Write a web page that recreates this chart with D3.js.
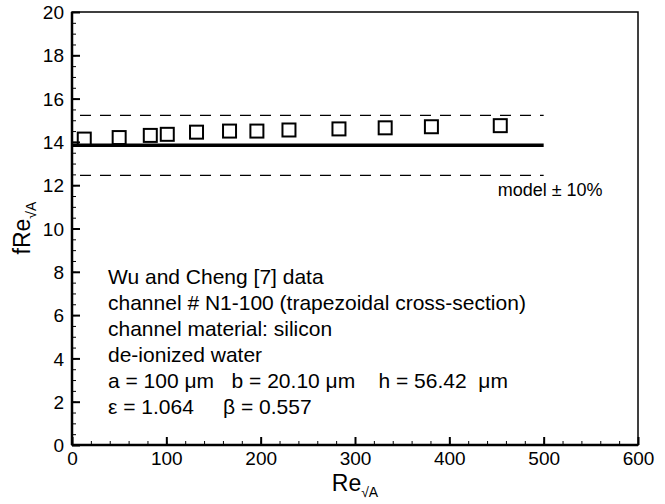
<!DOCTYPE html>
<html>
<head>
<meta charset="utf-8">
<script src="https://cdn.jsdelivr.net/npm/d3@7"></script>
<style>
body { margin: 0; background: #fff; }
svg { font-family: "Liberation Sans", Arial, sans-serif; }
</style>
</head>
<body>
<svg id="chart"></svg>
<script>
// data
const reData = [13, 50, 83, 101, 132, 167, 196, 230, 283, 332, 381, 454];
const fReData = [14.13, 14.2, 14.3, 14.35, 14.45, 14.5, 14.5, 14.55, 14.6, 14.65, 14.7, 14.75];
const modelRange = [0, 500];
const modelValue = 13.84;
const bandValues = [modelValue * 1.1, modelValue * 0.9];
const xTicks = [0, 100, 200, 300, 400, 500, 600];
const yTicks = [0, 2, 4, 6, 8, 10, 12, 14, 16, 18, 20];
const notes = [
    "Wu and Cheng [7] data",
    "channel # N1-100 (trapezoidal cross-section)",
    "channel material: silicon",
    "de-ionized water",
    "a = 100 \u03bcm   b = 20.10 \u03bcm    h = 56.42  \u03bcm",
    "\u03b5 = 1.064     \u03b2 = 0.557"
];

const width = 665;
const height = 504;
const mLeft = 72, mRight = 638, mTop = 12, mBottom = 445;

let svg = d3.select("#chart").attr("width", width).attr("height", height);

let scX = d3.scaleLinear().domain([0, 600]).range([mLeft, mRight]);
let scY = d3.scaleLinear().domain([0, 20]).range([mBottom, mTop]);

// frame
svg.append("rect")
    .attr("x", mLeft).attr("y", mTop)
    .attr("width", mRight - mLeft).attr("height", mBottom - mTop)
    .attr("fill", "none").attr("stroke", "#000").attr("stroke-width", 1.5);

// minor ticks (inward)
svg.append("g")
    .attr("transform", `translate(${mLeft},0)`)
    .call(d3.axisRight(scY).tickValues(d3.range(0, 20.01, 0.5)).tickSize(4).tickFormat(""))
    .call(g => g.select(".domain").remove())
    .selectAll("line").attr("stroke-width", 1);

svg.append("g")
    .attr("transform", `translate(0,${mBottom})`)
    .call(d3.axisTop(scX).tickValues(d3.range(0, 601, 20)).tickSize(4).tickFormat(""))
    .call(g => g.select(".domain").remove())
    .selectAll("line").attr("stroke-width", 1);

// major ticks + labels
let yAxis = svg.append("g")
    .attr("transform", `translate(${mLeft},0)`)
    .call(d3.axisRight(scY).tickValues(yTicks).tickSize(8));
yAxis.select(".domain").remove();
yAxis.selectAll("line").attr("stroke-width", 2);
yAxis.selectAll("text")
    .attr("x", -8).attr("dy", "0.35em")
    .style("text-anchor", "end").style("font-size", "19px")
    .style("font-family", "'Liberation Sans', Arial, sans-serif");

let xAxis = svg.append("g")
    .attr("transform", `translate(0,${mBottom})`)
    .call(d3.axisTop(scX).tickValues(xTicks).tickSize(8));
xAxis.select(".domain").remove();
xAxis.selectAll("line").attr("stroke-width", 2);
xAxis.selectAll("text")
    .attr("y", 3).attr("dy", "0.9em")
    .style("font-size", "19px")
    .style("font-family", "'Liberation Sans', Arial, sans-serif");

// left and bottom axis lines, thicker
svg.append("line").attr("x1", mLeft).attr("x2", mLeft).attr("y1", mTop).attr("y2", mBottom)
    .attr("stroke", "#000").attr("stroke-width", 2.5);
svg.append("line").attr("x1", mLeft).attr("x2", mRight).attr("y1", mBottom).attr("y2", mBottom)
    .attr("stroke", "#000").attr("stroke-width", 2.5);

// model line
svg.append("line")
    .attr("x1", scX(modelRange[0])).attr("x2", scX(modelRange[1]))
    .attr("y1", scY(modelValue)).attr("y2", scY(modelValue))
    .attr("stroke", "#000").attr("stroke-width", 3.5);

// +-10% dashed lines
bandValues.forEach(v => {
    svg.append("line")
        .attr("x1", scX(modelRange[0]) + 8).attr("x2", scX(modelRange[1]))
        .attr("y1", scY(v)).attr("y2", scY(v))
        .attr("stroke", "#000").attr("stroke-width", 1.2)
        .attr("stroke-dasharray", "11,9");
});

svg.append("text")
    .attr("x", scX(500) - 46).attr("y", scY(bandValues[1]) + 21)
    .style("font-size", "18px")
    .text("model \u00b1 10%");

// data squares
const s = 13;
svg.selectAll(".dot")
    .data(reData)
    .enter()
    .append("rect")
    .attr("x", (d) => scX(d) - s / 2)
    .attr("y", (d, i) => scY(fReData[i]) - s / 2)
    .attr("width", s).attr("height", s)
    .attr("fill", "none").attr("stroke", "#000").attr("stroke-width", 2);

// annotation
let note = svg.append("g").style("font-size", "21px");
notes.forEach((t, i) => {
    note.append("text").attr("x", 108).attr("y", 284 + i * 26)
        .attr("xml:space", "preserve").style("white-space", "pre").text(t);
});

// axis titles
let xt = svg.append("text")
    .attr("x", 355).attr("y", 491)
    .attr("text-anchor", "middle")
    .style("font-size", "23px");
xt.append("tspan").text("Re");
xt.append("tspan").attr("dy", 6).style("font-size", "14px").text("\u221aA");

let yt = svg.append("text")
    .attr("transform", "translate(30,228) rotate(-90)")
    .attr("text-anchor", "middle")
    .style("font-size", "23px");
yt.append("tspan").text("fRe");
yt.append("tspan").attr("dy", 6).style("font-size", "14px").text("\u221aA");
</script>
</body>
</html>
